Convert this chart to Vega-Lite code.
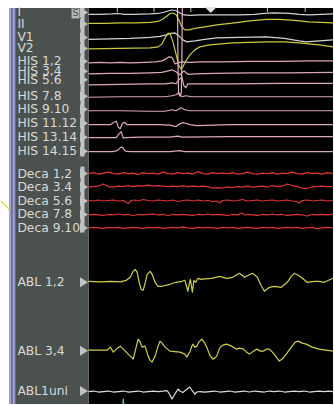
{
  "$schema": "https://vega.github.io/schema/vega-lite/v6.json",
  "width": 334,
  "height": 405,
  "padding": 0,
  "autosize": {"type": "fit", "contains": "padding"},
  "background": "#ffffff",
  "config": {"view": {"stroke": null}},
  "datasets": {
    "panels": [
      {"p": "trace area", "x": 88, "x2": 334, "y": 8, "y2": 405},
      {"p": "label panel", "x": 15, "x2": 88, "y": 8, "y2": 405},
      {"p": "edge 1", "x": 8, "x2": 10, "y": 8, "y2": 405},
      {"p": "edge 2", "x": 10, "x2": 12, "y": 8, "y2": 405},
      {"p": "edge 3", "x": 12, "x2": 13.5, "y": 8, "y2": 405},
      {"p": "edge 4", "x": 13.5, "x2": 15, "y": 8, "y2": 405},
      {"p": "marker strip", "x": 80, "x2": 84, "y": 8, "y2": 157},
      {"p": "marker strip", "x": 80, "x2": 84, "y": 167, "y2": 233},
      {"p": "speed box", "x": 71, "x2": 79, "y": 8.5, "y2": 18.5}
    ],
    "channels": [
      {"c": "I", "y": 12.5},
      {"c": "II", "y": 24},
      {"c": "V1", "y": 37.5},
      {"c": "V2", "y": 48.5},
      {"c": "HIS 1,2", "y": 61.5},
      {"c": "HIS 3,4", "y": 71.5},
      {"c": "HIS 5.6", "y": 80},
      {"c": "HIS 7.8", "y": 96.5},
      {"c": "HIS 9.10", "y": 109.5},
      {"c": "HIS 11.12", "y": 123.5},
      {"c": "HIS 13.14", "y": 137.5},
      {"c": "HIS 14.15", "y": 151.5},
      {"c": "Deca 1,2", "y": 174},
      {"c": "Deca 3.4", "y": 187.5},
      {"c": "Deca 5.6", "y": 201.5},
      {"c": "Deca 7.8", "y": 215},
      {"c": "Deca 9.10", "y": 228.5},
      {"c": "ABL 1,2", "y": 283},
      {"c": "ABL 3,4", "y": 351.5},
      {"c": "ABL1uni", "y": 392}
    ],
    "ticks": [
      {"t": 117, "y": 8, "y2": 12},
      {"t": 154, "y": 8, "y2": 12},
      {"t": 191, "y": 8, "y2": 12},
      {"t": 268, "y": 8, "y2": 12},
      {"t": 306, "y": 8, "y2": 12}
    ],
    "cursor": [{"t": 211, "y": 10}],
    "speed": [{"t": 75, "y": 13.5, "s": "S"}],
    "traces": [
      {"c": "I", "t": 88, "v": 14.5}, {"c": "I", "t": 100, "v": 14.5}, {"c": "I", "t": 112, "v": 14}, {"c": "I", "t": 118, "v": 13.5}, {"c": "I", "t": 124, "v": 14.5}, {"c": "I", "t": 135, "v": 14.5}, {"c": "I", "t": 150, "v": 14}, {"c": "I", "t": 158, "v": 13.5}, {"c": "I", "t": 163, "v": 12.5}, {"c": "I", "t": 168, "v": 11}, {"c": "I", "t": 172, "v": 10}, {"c": "I", "t": 176, "v": 10.5}, {"c": "I", "t": 180, "v": 13}, {"c": "I", "t": 184, "v": 15}, {"c": "I", "t": 190, "v": 15.5}, {"c": "I", "t": 200, "v": 15}, {"c": "I", "t": 220, "v": 15}, {"c": "I", "t": 240, "v": 15}, {"c": "I", "t": 255, "v": 14.5}, {"c": "I", "t": 265, "v": 13.5}, {"c": "I", "t": 275, "v": 13}, {"c": "I", "t": 290, "v": 13.5}, {"c": "I", "t": 300, "v": 14.5}, {"c": "I", "t": 310, "v": 15}, {"c": "I", "t": 322, "v": 14.5}, {"c": "I", "t": 334, "v": 14},

      {"c": "II", "t": 88, "v": 23.5}, {"c": "II", "t": 105, "v": 23.5}, {"c": "II", "t": 120, "v": 23}, {"c": "II", "t": 135, "v": 23}, {"c": "II", "t": 150, "v": 22.5}, {"c": "II", "t": 158, "v": 21.5}, {"c": "II", "t": 163, "v": 19}, {"c": "II", "t": 167, "v": 16}, {"c": "II", "t": 170, "v": 13.5}, {"c": "II", "t": 173, "v": 13}, {"c": "II", "t": 176, "v": 14.5}, {"c": "II", "t": 179, "v": 20}, {"c": "II", "t": 182, "v": 27}, {"c": "II", "t": 185, "v": 30}, {"c": "II", "t": 189, "v": 30}, {"c": "II", "t": 195, "v": 28.5}, {"c": "II", "t": 205, "v": 27}, {"c": "II", "t": 217, "v": 25}, {"c": "II", "t": 235, "v": 23}, {"c": "II", "t": 250, "v": 21}, {"c": "II", "t": 267, "v": 19.5}, {"c": "II", "t": 280, "v": 19.5}, {"c": "II", "t": 295, "v": 20.5}, {"c": "II", "t": 310, "v": 22}, {"c": "II", "t": 334, "v": 23},

      {"c": "V1", "t": 88, "v": 39.5}, {"c": "V1", "t": 110, "v": 39}, {"c": "V1", "t": 130, "v": 38.5}, {"c": "V1", "t": 150, "v": 37.5}, {"c": "V1", "t": 160, "v": 36.5}, {"c": "V1", "t": 166, "v": 35}, {"c": "V1", "t": 171, "v": 33.5}, {"c": "V1", "t": 175, "v": 33}, {"c": "V1", "t": 179, "v": 36}, {"c": "V1", "t": 183, "v": 40}, {"c": "V1", "t": 187, "v": 42}, {"c": "V1", "t": 195, "v": 41}, {"c": "V1", "t": 205, "v": 39.5}, {"c": "V1", "t": 217, "v": 38}, {"c": "V1", "t": 240, "v": 37.5}, {"c": "V1", "t": 267, "v": 37}, {"c": "V1", "t": 285, "v": 38.5}, {"c": "V1", "t": 300, "v": 41}, {"c": "V1", "t": 307, "v": 42}, {"c": "V1", "t": 320, "v": 41}, {"c": "V1", "t": 334, "v": 40},

      {"c": "V2", "t": 88, "v": 49}, {"c": "V2", "t": 120, "v": 48.5}, {"c": "V2", "t": 150, "v": 48}, {"c": "V2", "t": 158, "v": 47}, {"c": "V2", "t": 162, "v": 44}, {"c": "V2", "t": 165, "v": 38}, {"c": "V2", "t": 168, "v": 33.5}, {"c": "V2", "t": 170, "v": 33.5}, {"c": "V2", "t": 173, "v": 42}, {"c": "V2", "t": 176, "v": 54}, {"c": "V2", "t": 179, "v": 66}, {"c": "V2", "t": 181, "v": 69}, {"c": "V2", "t": 183, "v": 67}, {"c": "V2", "t": 186, "v": 61}, {"c": "V2", "t": 190, "v": 55}, {"c": "V2", "t": 195, "v": 50}, {"c": "V2", "t": 200, "v": 47}, {"c": "V2", "t": 210, "v": 45}, {"c": "V2", "t": 233, "v": 43}, {"c": "V2", "t": 267, "v": 42}, {"c": "V2", "t": 285, "v": 42}, {"c": "V2", "t": 300, "v": 43}, {"c": "V2", "t": 320, "v": 45}, {"c": "V2", "t": 334, "v": 47},

      {"c": "HIS spike", "t": 177.6, "v": 8}, {"c": "HIS spike", "t": 178, "v": 60}, {"c": "HIS spike", "t": 178.6, "v": 93}, {"c": "HIS spike", "t": 180, "v": 96.5}, {"c": "HIS spike", "t": 181.4, "v": 93}, {"c": "HIS spike", "t": 182, "v": 60}, {"c": "HIS spike", "t": 182.4, "v": 8},

      {"c": "HIS 1,2", "t": 88, "v": 63}, {"c": "HIS 1,2", "t": 100, "v": 62.5}, {"c": "HIS 1,2", "t": 110, "v": 63}, {"c": "HIS 1,2", "t": 120, "v": 62.5}, {"c": "HIS 1,2", "t": 130, "v": 63}, {"c": "HIS 1,2", "t": 145, "v": 62.5}, {"c": "HIS 1,2", "t": 155, "v": 62}, {"c": "HIS 1,2", "t": 162, "v": 61}, {"c": "HIS 1,2", "t": 166, "v": 59}, {"c": "HIS 1,2", "t": 169, "v": 57}, {"c": "HIS 1,2", "t": 172, "v": 57.5}, {"c": "HIS 1,2", "t": 175, "v": 64}, {"c": "HIS 1,2", "t": 178, "v": 63}, {"c": "HIS 1,2", "t": 182, "v": 62}, {"c": "HIS 1,2", "t": 190, "v": 62.5}, {"c": "HIS 1,2", "t": 200, "v": 62}, {"c": "HIS 1,2", "t": 220, "v": 62}, {"c": "HIS 1,2", "t": 250, "v": 61.5}, {"c": "HIS 1,2", "t": 280, "v": 61.5}, {"c": "HIS 1,2", "t": 310, "v": 61}, {"c": "HIS 1,2", "t": 334, "v": 61},

      {"c": "HIS 3,4", "t": 88, "v": 74}, {"c": "HIS 3,4", "t": 110, "v": 73.5}, {"c": "HIS 3,4", "t": 130, "v": 73.5}, {"c": "HIS 3,4", "t": 150, "v": 73}, {"c": "HIS 3,4", "t": 162, "v": 72.5}, {"c": "HIS 3,4", "t": 168, "v": 71}, {"c": "HIS 3,4", "t": 172, "v": 70}, {"c": "HIS 3,4", "t": 176, "v": 72}, {"c": "HIS 3,4", "t": 180, "v": 75}, {"c": "HIS 3,4", "t": 184, "v": 71}, {"c": "HIS 3,4", "t": 188, "v": 74.5}, {"c": "HIS 3,4", "t": 195, "v": 74}, {"c": "HIS 3,4", "t": 215, "v": 73.5}, {"c": "HIS 3,4", "t": 250, "v": 73}, {"c": "HIS 3,4", "t": 290, "v": 73}, {"c": "HIS 3,4", "t": 334, "v": 72.5},

      {"c": "HIS 5.6", "t": 88, "v": 85}, {"c": "HIS 5.6", "t": 120, "v": 84.5}, {"c": "HIS 5.6", "t": 150, "v": 84}, {"c": "HIS 5.6", "t": 165, "v": 84}, {"c": "HIS 5.6", "t": 172, "v": 83}, {"c": "HIS 5.6", "t": 176, "v": 84}, {"c": "HIS 5.6", "t": 179, "v": 80}, {"c": "HIS 5.6", "t": 182, "v": 77}, {"c": "HIS 5.6", "t": 184, "v": 86}, {"c": "HIS 5.6", "t": 186, "v": 88}, {"c": "HIS 5.6", "t": 188, "v": 84}, {"c": "HIS 5.6", "t": 195, "v": 84}, {"c": "HIS 5.6", "t": 230, "v": 84}, {"c": "HIS 5.6", "t": 280, "v": 83.5}, {"c": "HIS 5.6", "t": 334, "v": 83.5},

      {"c": "HIS 7.8", "t": 88, "v": 97.5}, {"c": "HIS 7.8", "t": 120, "v": 97}, {"c": "HIS 7.8", "t": 150, "v": 97}, {"c": "HIS 7.8", "t": 165, "v": 97}, {"c": "HIS 7.8", "t": 172, "v": 96}, {"c": "HIS 7.8", "t": 176, "v": 95}, {"c": "HIS 7.8", "t": 179, "v": 93}, {"c": "HIS 7.8", "t": 182, "v": 97}, {"c": "HIS 7.8", "t": 186, "v": 96}, {"c": "HIS 7.8", "t": 192, "v": 97}, {"c": "HIS 7.8", "t": 230, "v": 97}, {"c": "HIS 7.8", "t": 280, "v": 97}, {"c": "HIS 7.8", "t": 334, "v": 97},

      {"c": "HIS 9.10", "t": 88, "v": 111}, {"c": "HIS 9.10", "t": 120, "v": 111}, {"c": "HIS 9.10", "t": 150, "v": 111.5}, {"c": "HIS 9.10", "t": 165, "v": 111.5}, {"c": "HIS 9.10", "t": 172, "v": 110}, {"c": "HIS 9.10", "t": 176, "v": 111}, {"c": "HIS 9.10", "t": 181, "v": 108}, {"c": "HIS 9.10", "t": 185, "v": 110}, {"c": "HIS 9.10", "t": 190, "v": 111}, {"c": "HIS 9.10", "t": 230, "v": 111}, {"c": "HIS 9.10", "t": 280, "v": 111}, {"c": "HIS 9.10", "t": 334, "v": 111},

      {"c": "HIS 11.12", "t": 88, "v": 125}, {"c": "HIS 11.12", "t": 110, "v": 125}, {"c": "HIS 11.12", "t": 113, "v": 123}, {"c": "HIS 11.12", "t": 116, "v": 121.5}, {"c": "HIS 11.12", "t": 118, "v": 127.5}, {"c": "HIS 11.12", "t": 120, "v": 129}, {"c": "HIS 11.12", "t": 122, "v": 124}, {"c": "HIS 11.12", "t": 124, "v": 122.5}, {"c": "HIS 11.12", "t": 127, "v": 125}, {"c": "HIS 11.12", "t": 140, "v": 125}, {"c": "HIS 11.12", "t": 160, "v": 125}, {"c": "HIS 11.12", "t": 170, "v": 125.5}, {"c": "HIS 11.12", "t": 176, "v": 127}, {"c": "HIS 11.12", "t": 180, "v": 124}, {"c": "HIS 11.12", "t": 184, "v": 123}, {"c": "HIS 11.12", "t": 190, "v": 125}, {"c": "HIS 11.12", "t": 197, "v": 126}, {"c": "HIS 11.12", "t": 230, "v": 125}, {"c": "HIS 11.12", "t": 280, "v": 125}, {"c": "HIS 11.12", "t": 334, "v": 125},

      {"c": "HIS 13.14", "t": 88, "v": 138}, {"c": "HIS 13.14", "t": 116, "v": 138}, {"c": "HIS 13.14", "t": 119, "v": 134}, {"c": "HIS 13.14", "t": 121, "v": 132}, {"c": "HIS 13.14", "t": 123, "v": 138.5}, {"c": "HIS 13.14", "t": 125, "v": 138}, {"c": "HIS 13.14", "t": 140, "v": 137.5}, {"c": "HIS 13.14", "t": 170, "v": 137.5}, {"c": "HIS 13.14", "t": 178, "v": 136.5}, {"c": "HIS 13.14", "t": 182, "v": 137.5}, {"c": "HIS 13.14", "t": 230, "v": 137}, {"c": "HIS 13.14", "t": 280, "v": 137}, {"c": "HIS 13.14", "t": 334, "v": 137},

      {"c": "HIS 14.15", "t": 88, "v": 152}, {"c": "HIS 14.15", "t": 112, "v": 152}, {"c": "HIS 14.15", "t": 117, "v": 151}, {"c": "HIS 14.15", "t": 120, "v": 148}, {"c": "HIS 14.15", "t": 122, "v": 147.5}, {"c": "HIS 14.15", "t": 125, "v": 151.5}, {"c": "HIS 14.15", "t": 130, "v": 152}, {"c": "HIS 14.15", "t": 170, "v": 152}, {"c": "HIS 14.15", "t": 180, "v": 151}, {"c": "HIS 14.15", "t": 184, "v": 152}, {"c": "HIS 14.15", "t": 230, "v": 152}, {"c": "HIS 14.15", "t": 280, "v": 152}, {"c": "HIS 14.15", "t": 334, "v": 152},

      {"c": "Deca 1,2", "t": 88, "v": 174}, {"c": "Deca 1,2", "t": 93, "v": 173}, {"c": "Deca 1,2", "t": 98, "v": 174.5}, {"c": "Deca 1,2", "t": 103, "v": 173.5}, {"c": "Deca 1,2", "t": 108, "v": 172.5}, {"c": "Deca 1,2", "t": 113, "v": 174}, {"c": "Deca 1,2", "t": 118, "v": 174.5}, {"c": "Deca 1,2", "t": 123, "v": 173}, {"c": "Deca 1,2", "t": 128, "v": 174}, {"c": "Deca 1,2", "t": 133, "v": 173.5}, {"c": "Deca 1,2", "t": 138, "v": 175}, {"c": "Deca 1,2", "t": 143, "v": 173}, {"c": "Deca 1,2", "t": 148, "v": 174}, {"c": "Deca 1,2", "t": 153, "v": 173.5}, {"c": "Deca 1,2", "t": 158, "v": 174.5}, {"c": "Deca 1,2", "t": 163, "v": 172.5}, {"c": "Deca 1,2", "t": 168, "v": 174}, {"c": "Deca 1,2", "t": 173, "v": 174.5}, {"c": "Deca 1,2", "t": 178, "v": 173}, {"c": "Deca 1,2", "t": 183, "v": 174}, {"c": "Deca 1,2", "t": 188, "v": 173.5}, {"c": "Deca 1,2", "t": 193, "v": 174.5}, {"c": "Deca 1,2", "t": 198, "v": 172}, {"c": "Deca 1,2", "t": 203, "v": 174}, {"c": "Deca 1,2", "t": 208, "v": 174.5}, {"c": "Deca 1,2", "t": 213, "v": 173}, {"c": "Deca 1,2", "t": 218, "v": 174}, {"c": "Deca 1,2", "t": 223, "v": 173.5}, {"c": "Deca 1,2", "t": 228, "v": 174}, {"c": "Deca 1,2", "t": 233, "v": 173}, {"c": "Deca 1,2", "t": 238, "v": 174.5}, {"c": "Deca 1,2", "t": 243, "v": 174}, {"c": "Deca 1,2", "t": 248, "v": 172.5}, {"c": "Deca 1,2", "t": 253, "v": 174}, {"c": "Deca 1,2", "t": 258, "v": 174.5}, {"c": "Deca 1,2", "t": 263, "v": 173.5}, {"c": "Deca 1,2", "t": 268, "v": 174}, {"c": "Deca 1,2", "t": 273, "v": 173}, {"c": "Deca 1,2", "t": 278, "v": 174.5}, {"c": "Deca 1,2", "t": 283, "v": 173.5}, {"c": "Deca 1,2", "t": 288, "v": 174}, {"c": "Deca 1,2", "t": 293, "v": 172.5}, {"c": "Deca 1,2", "t": 298, "v": 174}, {"c": "Deca 1,2", "t": 303, "v": 174.5}, {"c": "Deca 1,2", "t": 308, "v": 173}, {"c": "Deca 1,2", "t": 313, "v": 174}, {"c": "Deca 1,2", "t": 318, "v": 173.5}, {"c": "Deca 1,2", "t": 323, "v": 174.5}, {"c": "Deca 1,2", "t": 328, "v": 173}, {"c": "Deca 1,2", "t": 334, "v": 174},

      {"c": "Deca 3.4", "t": 88, "v": 187.5}, {"c": "Deca 3.4", "t": 93, "v": 187}, {"c": "Deca 3.4", "t": 98, "v": 186.5}, {"c": "Deca 3.4", "t": 103, "v": 184.5}, {"c": "Deca 3.4", "t": 108, "v": 187}, {"c": "Deca 3.4", "t": 113, "v": 187.5}, {"c": "Deca 3.4", "t": 118, "v": 186.5}, {"c": "Deca 3.4", "t": 123, "v": 187}, {"c": "Deca 3.4", "t": 128, "v": 186}, {"c": "Deca 3.4", "t": 133, "v": 187}, {"c": "Deca 3.4", "t": 138, "v": 186}, {"c": "Deca 3.4", "t": 143, "v": 186.5}, {"c": "Deca 3.4", "t": 148, "v": 185.5}, {"c": "Deca 3.4", "t": 153, "v": 186.5}, {"c": "Deca 3.4", "t": 158, "v": 186}, {"c": "Deca 3.4", "t": 163, "v": 186.5}, {"c": "Deca 3.4", "t": 168, "v": 187}, {"c": "Deca 3.4", "t": 173, "v": 186.5}, {"c": "Deca 3.4", "t": 178, "v": 187}, {"c": "Deca 3.4", "t": 183, "v": 186}, {"c": "Deca 3.4", "t": 188, "v": 187}, {"c": "Deca 3.4", "t": 193, "v": 186.5}, {"c": "Deca 3.4", "t": 198, "v": 187}, {"c": "Deca 3.4", "t": 203, "v": 186.5}, {"c": "Deca 3.4", "t": 208, "v": 187}, {"c": "Deca 3.4", "t": 213, "v": 188.5}, {"c": "Deca 3.4", "t": 218, "v": 188}, {"c": "Deca 3.4", "t": 223, "v": 188.5}, {"c": "Deca 3.4", "t": 228, "v": 187.5}, {"c": "Deca 3.4", "t": 233, "v": 188}, {"c": "Deca 3.4", "t": 238, "v": 187}, {"c": "Deca 3.4", "t": 243, "v": 187.5}, {"c": "Deca 3.4", "t": 248, "v": 186.5}, {"c": "Deca 3.4", "t": 253, "v": 187.5}, {"c": "Deca 3.4", "t": 258, "v": 187}, {"c": "Deca 3.4", "t": 263, "v": 186.5}, {"c": "Deca 3.4", "t": 268, "v": 187.5}, {"c": "Deca 3.4", "t": 273, "v": 186}, {"c": "Deca 3.4", "t": 278, "v": 187}, {"c": "Deca 3.4", "t": 283, "v": 186.5}, {"c": "Deca 3.4", "t": 288, "v": 184.5}, {"c": "Deca 3.4", "t": 293, "v": 186}, {"c": "Deca 3.4", "t": 298, "v": 187}, {"c": "Deca 3.4", "t": 303, "v": 188.5}, {"c": "Deca 3.4", "t": 308, "v": 189}, {"c": "Deca 3.4", "t": 313, "v": 187.5}, {"c": "Deca 3.4", "t": 318, "v": 187}, {"c": "Deca 3.4", "t": 323, "v": 186.5}, {"c": "Deca 3.4", "t": 328, "v": 187}, {"c": "Deca 3.4", "t": 334, "v": 187},

      {"c": "Deca 5.6", "t": 88, "v": 201}, {"c": "Deca 5.6", "t": 93, "v": 201.5}, {"c": "Deca 5.6", "t": 98, "v": 200.5}, {"c": "Deca 5.6", "t": 103, "v": 201.5}, {"c": "Deca 5.6", "t": 108, "v": 201}, {"c": "Deca 5.6", "t": 113, "v": 200.5}, {"c": "Deca 5.6", "t": 118, "v": 201.5}, {"c": "Deca 5.6", "t": 123, "v": 201}, {"c": "Deca 5.6", "t": 128, "v": 204}, {"c": "Deca 5.6", "t": 131, "v": 201}, {"c": "Deca 5.6", "t": 134, "v": 200.5}, {"c": "Deca 5.6", "t": 138, "v": 201.5}, {"c": "Deca 5.6", "t": 143, "v": 200}, {"c": "Deca 5.6", "t": 148, "v": 201}, {"c": "Deca 5.6", "t": 153, "v": 201.5}, {"c": "Deca 5.6", "t": 158, "v": 200.5}, {"c": "Deca 5.6", "t": 163, "v": 201}, {"c": "Deca 5.6", "t": 168, "v": 201.5}, {"c": "Deca 5.6", "t": 173, "v": 200.5}, {"c": "Deca 5.6", "t": 178, "v": 202}, {"c": "Deca 5.6", "t": 183, "v": 201}, {"c": "Deca 5.6", "t": 188, "v": 200.5}, {"c": "Deca 5.6", "t": 193, "v": 201.5}, {"c": "Deca 5.6", "t": 198, "v": 200.5}, {"c": "Deca 5.6", "t": 203, "v": 201.5}, {"c": "Deca 5.6", "t": 208, "v": 201}, {"c": "Deca 5.6", "t": 213, "v": 202}, {"c": "Deca 5.6", "t": 217, "v": 201.5}, {"c": "Deca 5.6", "t": 220, "v": 203.5}, {"c": "Deca 5.6", "t": 223, "v": 201}, {"c": "Deca 5.6", "t": 228, "v": 200.5}, {"c": "Deca 5.6", "t": 233, "v": 201.5}, {"c": "Deca 5.6", "t": 238, "v": 201}, {"c": "Deca 5.6", "t": 243, "v": 200}, {"c": "Deca 5.6", "t": 248, "v": 201.5}, {"c": "Deca 5.6", "t": 253, "v": 201}, {"c": "Deca 5.6", "t": 258, "v": 200.5}, {"c": "Deca 5.6", "t": 263, "v": 201.5}, {"c": "Deca 5.6", "t": 268, "v": 201}, {"c": "Deca 5.6", "t": 273, "v": 200.5}, {"c": "Deca 5.6", "t": 278, "v": 201.5}, {"c": "Deca 5.6", "t": 283, "v": 201}, {"c": "Deca 5.6", "t": 288, "v": 200.5}, {"c": "Deca 5.6", "t": 293, "v": 201.5}, {"c": "Deca 5.6", "t": 297, "v": 202}, {"c": "Deca 5.6", "t": 300, "v": 203.5}, {"c": "Deca 5.6", "t": 303, "v": 201}, {"c": "Deca 5.6", "t": 308, "v": 200.5}, {"c": "Deca 5.6", "t": 313, "v": 201.5}, {"c": "Deca 5.6", "t": 318, "v": 201}, {"c": "Deca 5.6", "t": 323, "v": 200.5}, {"c": "Deca 5.6", "t": 328, "v": 201.5}, {"c": "Deca 5.6", "t": 334, "v": 201},

      {"c": "Deca 7.8", "t": 88, "v": 215.5}, {"c": "Deca 7.8", "t": 93, "v": 215}, {"c": "Deca 7.8", "t": 98, "v": 215.5}, {"c": "Deca 7.8", "t": 103, "v": 216}, {"c": "Deca 7.8", "t": 108, "v": 215}, {"c": "Deca 7.8", "t": 113, "v": 215.5}, {"c": "Deca 7.8", "t": 118, "v": 214.5}, {"c": "Deca 7.8", "t": 123, "v": 215.5}, {"c": "Deca 7.8", "t": 128, "v": 215}, {"c": "Deca 7.8", "t": 133, "v": 216}, {"c": "Deca 7.8", "t": 138, "v": 215}, {"c": "Deca 7.8", "t": 143, "v": 215.5}, {"c": "Deca 7.8", "t": 148, "v": 215}, {"c": "Deca 7.8", "t": 153, "v": 214.5}, {"c": "Deca 7.8", "t": 158, "v": 215.5}, {"c": "Deca 7.8", "t": 163, "v": 215}, {"c": "Deca 7.8", "t": 168, "v": 216}, {"c": "Deca 7.8", "t": 173, "v": 215}, {"c": "Deca 7.8", "t": 178, "v": 215.5}, {"c": "Deca 7.8", "t": 183, "v": 215}, {"c": "Deca 7.8", "t": 188, "v": 215.5}, {"c": "Deca 7.8", "t": 193, "v": 216}, {"c": "Deca 7.8", "t": 198, "v": 215}, {"c": "Deca 7.8", "t": 203, "v": 215.5}, {"c": "Deca 7.8", "t": 208, "v": 214.5}, {"c": "Deca 7.8", "t": 213, "v": 215.5}, {"c": "Deca 7.8", "t": 218, "v": 215}, {"c": "Deca 7.8", "t": 223, "v": 215.5}, {"c": "Deca 7.8", "t": 228, "v": 216}, {"c": "Deca 7.8", "t": 233, "v": 215}, {"c": "Deca 7.8", "t": 238, "v": 215.5}, {"c": "Deca 7.8", "t": 242, "v": 213.5}, {"c": "Deca 7.8", "t": 245, "v": 215.5}, {"c": "Deca 7.8", "t": 248, "v": 215}, {"c": "Deca 7.8", "t": 253, "v": 215.5}, {"c": "Deca 7.8", "t": 258, "v": 216}, {"c": "Deca 7.8", "t": 263, "v": 215}, {"c": "Deca 7.8", "t": 268, "v": 215.5}, {"c": "Deca 7.8", "t": 273, "v": 214.5}, {"c": "Deca 7.8", "t": 278, "v": 215.5}, {"c": "Deca 7.8", "t": 283, "v": 215}, {"c": "Deca 7.8", "t": 288, "v": 216}, {"c": "Deca 7.8", "t": 293, "v": 215.5}, {"c": "Deca 7.8", "t": 298, "v": 215}, {"c": "Deca 7.8", "t": 303, "v": 215.5}, {"c": "Deca 7.8", "t": 308, "v": 216.5}, {"c": "Deca 7.8", "t": 313, "v": 215}, {"c": "Deca 7.8", "t": 318, "v": 215.5}, {"c": "Deca 7.8", "t": 323, "v": 215}, {"c": "Deca 7.8", "t": 328, "v": 215.5}, {"c": "Deca 7.8", "t": 334, "v": 215},

      {"c": "Deca 9.10", "t": 88, "v": 228.5}, {"c": "Deca 9.10", "t": 93, "v": 228}, {"c": "Deca 9.10", "t": 98, "v": 228.5}, {"c": "Deca 9.10", "t": 103, "v": 229}, {"c": "Deca 9.10", "t": 108, "v": 228}, {"c": "Deca 9.10", "t": 113, "v": 228.5}, {"c": "Deca 9.10", "t": 118, "v": 228}, {"c": "Deca 9.10", "t": 123, "v": 229}, {"c": "Deca 9.10", "t": 128, "v": 228.5}, {"c": "Deca 9.10", "t": 133, "v": 228}, {"c": "Deca 9.10", "t": 138, "v": 228.5}, {"c": "Deca 9.10", "t": 143, "v": 229}, {"c": "Deca 9.10", "t": 148, "v": 228}, {"c": "Deca 9.10", "t": 153, "v": 228.5}, {"c": "Deca 9.10", "t": 158, "v": 228}, {"c": "Deca 9.10", "t": 163, "v": 229}, {"c": "Deca 9.10", "t": 168, "v": 228.5}, {"c": "Deca 9.10", "t": 173, "v": 228}, {"c": "Deca 9.10", "t": 178, "v": 228.5}, {"c": "Deca 9.10", "t": 183, "v": 227.5}, {"c": "Deca 9.10", "t": 188, "v": 228.5}, {"c": "Deca 9.10", "t": 193, "v": 229}, {"c": "Deca 9.10", "t": 198, "v": 228}, {"c": "Deca 9.10", "t": 203, "v": 228.5}, {"c": "Deca 9.10", "t": 208, "v": 228}, {"c": "Deca 9.10", "t": 213, "v": 228.5}, {"c": "Deca 9.10", "t": 218, "v": 229}, {"c": "Deca 9.10", "t": 223, "v": 228}, {"c": "Deca 9.10", "t": 228, "v": 228.5}, {"c": "Deca 9.10", "t": 233, "v": 228}, {"c": "Deca 9.10", "t": 238, "v": 229}, {"c": "Deca 9.10", "t": 243, "v": 228.5}, {"c": "Deca 9.10", "t": 248, "v": 228}, {"c": "Deca 9.10", "t": 253, "v": 228.5}, {"c": "Deca 9.10", "t": 258, "v": 229}, {"c": "Deca 9.10", "t": 263, "v": 228}, {"c": "Deca 9.10", "t": 268, "v": 228.5}, {"c": "Deca 9.10", "t": 273, "v": 228}, {"c": "Deca 9.10", "t": 278, "v": 229}, {"c": "Deca 9.10", "t": 283, "v": 228.5}, {"c": "Deca 9.10", "t": 288, "v": 228}, {"c": "Deca 9.10", "t": 293, "v": 228.5}, {"c": "Deca 9.10", "t": 298, "v": 228}, {"c": "Deca 9.10", "t": 303, "v": 229}, {"c": "Deca 9.10", "t": 308, "v": 228.5}, {"c": "Deca 9.10", "t": 313, "v": 228}, {"c": "Deca 9.10", "t": 318, "v": 229.5}, {"c": "Deca 9.10", "t": 323, "v": 228.5}, {"c": "Deca 9.10", "t": 328, "v": 228}, {"c": "Deca 9.10", "t": 334, "v": 228.5},

      {"c": "ABL 1,2", "t": 88, "v": 282}, {"c": "ABL 1,2", "t": 100, "v": 282.5}, {"c": "ABL 1,2", "t": 110, "v": 282}, {"c": "ABL 1,2", "t": 120, "v": 282.5}, {"c": "ABL 1,2", "t": 126, "v": 281}, {"c": "ABL 1,2", "t": 130, "v": 278}, {"c": "ABL 1,2", "t": 133, "v": 272}, {"c": "ABL 1,2", "t": 135, "v": 270}, {"c": "ABL 1,2", "t": 137, "v": 273}, {"c": "ABL 1,2", "t": 139, "v": 283}, {"c": "ABL 1,2", "t": 141, "v": 290}, {"c": "ABL 1,2", "t": 143, "v": 291}, {"c": "ABL 1,2", "t": 145, "v": 284}, {"c": "ABL 1,2", "t": 147, "v": 275}, {"c": "ABL 1,2", "t": 150, "v": 272}, {"c": "ABL 1,2", "t": 152, "v": 275}, {"c": "ABL 1,2", "t": 155, "v": 283}, {"c": "ABL 1,2", "t": 158, "v": 287}, {"c": "ABL 1,2", "t": 162, "v": 287}, {"c": "ABL 1,2", "t": 170, "v": 285}, {"c": "ABL 1,2", "t": 176, "v": 283}, {"c": "ABL 1,2", "t": 182, "v": 282}, {"c": "ABL 1,2", "t": 185, "v": 281}, {"c": "ABL 1,2", "t": 187, "v": 288}, {"c": "ABL 1,2", "t": 188, "v": 292}, {"c": "ABL 1,2", "t": 189.5, "v": 284}, {"c": "ABL 1,2", "t": 190.5, "v": 280}, {"c": "ABL 1,2", "t": 191.5, "v": 286}, {"c": "ABL 1,2", "t": 192.5, "v": 293}, {"c": "ABL 1,2", "t": 194, "v": 281}, {"c": "ABL 1,2", "t": 196, "v": 283}, {"c": "ABL 1,2", "t": 198, "v": 279}, {"c": "ABL 1,2", "t": 201, "v": 280}, {"c": "ABL 1,2", "t": 205, "v": 279.5}, {"c": "ABL 1,2", "t": 212, "v": 279}, {"c": "ABL 1,2", "t": 220, "v": 277}, {"c": "ABL 1,2", "t": 227, "v": 279}, {"c": "ABL 1,2", "t": 233, "v": 278}, {"c": "ABL 1,2", "t": 240, "v": 274}, {"c": "ABL 1,2", "t": 245, "v": 278}, {"c": "ABL 1,2", "t": 249, "v": 276}, {"c": "ABL 1,2", "t": 253, "v": 274}, {"c": "ABL 1,2", "t": 258, "v": 278}, {"c": "ABL 1,2", "t": 261, "v": 285}, {"c": "ABL 1,2", "t": 265, "v": 292}, {"c": "ABL 1,2", "t": 270, "v": 288}, {"c": "ABL 1,2", "t": 275, "v": 287}, {"c": "ABL 1,2", "t": 282, "v": 288}, {"c": "ABL 1,2", "t": 288, "v": 283}, {"c": "ABL 1,2", "t": 292, "v": 277}, {"c": "ABL 1,2", "t": 295, "v": 274}, {"c": "ABL 1,2", "t": 299, "v": 276}, {"c": "ABL 1,2", "t": 302, "v": 278}, {"c": "ABL 1,2", "t": 308, "v": 283}, {"c": "ABL 1,2", "t": 315, "v": 282}, {"c": "ABL 1,2", "t": 320, "v": 282}, {"c": "ABL 1,2", "t": 325, "v": 283}, {"c": "ABL 1,2", "t": 334, "v": 279},

      {"c": "ABL 3,4", "t": 88, "v": 351}, {"c": "ABL 3,4", "t": 100, "v": 351}, {"c": "ABL 3,4", "t": 107, "v": 351}, {"c": "ABL 3,4", "t": 110, "v": 348}, {"c": "ABL 3,4", "t": 113, "v": 353}, {"c": "ABL 3,4", "t": 117, "v": 349}, {"c": "ABL 3,4", "t": 120, "v": 347}, {"c": "ABL 3,4", "t": 125, "v": 352}, {"c": "ABL 3,4", "t": 130, "v": 357}, {"c": "ABL 3,4", "t": 133, "v": 360}, {"c": "ABL 3,4", "t": 136, "v": 348}, {"c": "ABL 3,4", "t": 138, "v": 340}, {"c": "ABL 3,4", "t": 140, "v": 343}, {"c": "ABL 3,4", "t": 142, "v": 348}, {"c": "ABL 3,4", "t": 145, "v": 347}, {"c": "ABL 3,4", "t": 148, "v": 357}, {"c": "ABL 3,4", "t": 150, "v": 361}, {"c": "ABL 3,4", "t": 152, "v": 363}, {"c": "ABL 3,4", "t": 155, "v": 357}, {"c": "ABL 3,4", "t": 158, "v": 347}, {"c": "ABL 3,4", "t": 160, "v": 342}, {"c": "ABL 3,4", "t": 162, "v": 344}, {"c": "ABL 3,4", "t": 165, "v": 348}, {"c": "ABL 3,4", "t": 170, "v": 352}, {"c": "ABL 3,4", "t": 180, "v": 353}, {"c": "ABL 3,4", "t": 185, "v": 355}, {"c": "ABL 3,4", "t": 187, "v": 358}, {"c": "ABL 3,4", "t": 189, "v": 354}, {"c": "ABL 3,4", "t": 190, "v": 353}, {"c": "ABL 3,4", "t": 192, "v": 347}, {"c": "ABL 3,4", "t": 193, "v": 345}, {"c": "ABL 3,4", "t": 195, "v": 348}, {"c": "ABL 3,4", "t": 197, "v": 347}, {"c": "ABL 3,4", "t": 199, "v": 343}, {"c": "ABL 3,4", "t": 202, "v": 340}, {"c": "ABL 3,4", "t": 205, "v": 344}, {"c": "ABL 3,4", "t": 207, "v": 348}, {"c": "ABL 3,4", "t": 210, "v": 356}, {"c": "ABL 3,4", "t": 213, "v": 360}, {"c": "ABL 3,4", "t": 215, "v": 359}, {"c": "ABL 3,4", "t": 217, "v": 357}, {"c": "ABL 3,4", "t": 220, "v": 349}, {"c": "ABL 3,4", "t": 223, "v": 346}, {"c": "ABL 3,4", "t": 227, "v": 345}, {"c": "ABL 3,4", "t": 232, "v": 347}, {"c": "ABL 3,4", "t": 237, "v": 350}, {"c": "ABL 3,4", "t": 240, "v": 349}, {"c": "ABL 3,4", "t": 244, "v": 350}, {"c": "ABL 3,4", "t": 247, "v": 353}, {"c": "ABL 3,4", "t": 250, "v": 355}, {"c": "ABL 3,4", "t": 254, "v": 352}, {"c": "ABL 3,4", "t": 257, "v": 350}, {"c": "ABL 3,4", "t": 261, "v": 352}, {"c": "ABL 3,4", "t": 264, "v": 352}, {"c": "ABL 3,4", "t": 267, "v": 350}, {"c": "ABL 3,4", "t": 270, "v": 350}, {"c": "ABL 3,4", "t": 274, "v": 354}, {"c": "ABL 3,4", "t": 280, "v": 362}, {"c": "ABL 3,4", "t": 283, "v": 360}, {"c": "ABL 3,4", "t": 287, "v": 355}, {"c": "ABL 3,4", "t": 292, "v": 348}, {"c": "ABL 3,4", "t": 296, "v": 343}, {"c": "ABL 3,4", "t": 299, "v": 342}, {"c": "ABL 3,4", "t": 303, "v": 344}, {"c": "ABL 3,4", "t": 307, "v": 345}, {"c": "ABL 3,4", "t": 313, "v": 348}, {"c": "ABL 3,4", "t": 320, "v": 350}, {"c": "ABL 3,4", "t": 327, "v": 351}, {"c": "ABL 3,4", "t": 334, "v": 352},

      {"c": "ABL1uni", "t": 88, "v": 392.5}, {"c": "ABL1uni", "t": 93, "v": 392}, {"c": "ABL1uni", "t": 98, "v": 393}, {"c": "ABL1uni", "t": 103, "v": 392.5}, {"c": "ABL1uni", "t": 108, "v": 392}, {"c": "ABL1uni", "t": 113, "v": 393}, {"c": "ABL1uni", "t": 118, "v": 392.5}, {"c": "ABL1uni", "t": 123, "v": 392}, {"c": "ABL1uni", "t": 128, "v": 393}, {"c": "ABL1uni", "t": 133, "v": 392.5}, {"c": "ABL1uni", "t": 138, "v": 392}, {"c": "ABL1uni", "t": 143, "v": 393}, {"c": "ABL1uni", "t": 148, "v": 392.5}, {"c": "ABL1uni", "t": 153, "v": 392}, {"c": "ABL1uni", "t": 158, "v": 392.5}, {"c": "ABL1uni", "t": 163, "v": 392}, {"c": "ABL1uni", "t": 167, "v": 391.5}, {"c": "ABL1uni", "t": 169, "v": 394}, {"c": "ABL1uni", "t": 172, "v": 400}, {"c": "ABL1uni", "t": 175, "v": 395}, {"c": "ABL1uni", "t": 178, "v": 390}, {"c": "ABL1uni", "t": 180, "v": 392}, {"c": "ABL1uni", "t": 183, "v": 393.5}, {"c": "ABL1uni", "t": 186, "v": 391}, {"c": "ABL1uni", "t": 190, "v": 388}, {"c": "ABL1uni", "t": 192, "v": 391}, {"c": "ABL1uni", "t": 195, "v": 395}, {"c": "ABL1uni", "t": 197, "v": 393}, {"c": "ABL1uni", "t": 200, "v": 392.5}, {"c": "ABL1uni", "t": 205, "v": 393}, {"c": "ABL1uni", "t": 210, "v": 392.5}, {"c": "ABL1uni", "t": 215, "v": 392}, {"c": "ABL1uni", "t": 220, "v": 393}, {"c": "ABL1uni", "t": 225, "v": 392.5}, {"c": "ABL1uni", "t": 230, "v": 392}, {"c": "ABL1uni", "t": 235, "v": 393}, {"c": "ABL1uni", "t": 240, "v": 392.5}, {"c": "ABL1uni", "t": 245, "v": 392}, {"c": "ABL1uni", "t": 250, "v": 393}, {"c": "ABL1uni", "t": 255, "v": 392}, {"c": "ABL1uni", "t": 260, "v": 392.5}, {"c": "ABL1uni", "t": 265, "v": 393}, {"c": "ABL1uni", "t": 270, "v": 392}, {"c": "ABL1uni", "t": 275, "v": 392.5}, {"c": "ABL1uni", "t": 280, "v": 392}, {"c": "ABL1uni", "t": 285, "v": 393}, {"c": "ABL1uni", "t": 290, "v": 392.5}, {"c": "ABL1uni", "t": 295, "v": 392}, {"c": "ABL1uni", "t": 300, "v": 392.5}, {"c": "ABL1uni", "t": 305, "v": 392}, {"c": "ABL1uni", "t": 310, "v": 393}, {"c": "ABL1uni", "t": 315, "v": 392.5}, {"c": "ABL1uni", "t": 320, "v": 392}, {"c": "ABL1uni", "t": 325, "v": 392.5}, {"c": "ABL1uni", "t": 330, "v": 392}, {"c": "ABL1uni", "t": 334, "v": 392.5},

      {"c": "stim", "t": 122.6, "v": 405}, {"c": "stim", "t": 123, "v": 400}, {"c": "stim", "t": 123.4, "v": 405},

      {"c": "pointer", "t": 0, "v": 201.5}, {"c": "pointer", "t": 8.5, "v": 210}
    ]
  },
  "layer": [
    {
      "data": {"name": "panels"},
      "mark": {"type": "rect"},
      "encoding": {
        "x": {"field": "x", "type": "quantitative", "scale": {"domain": [0, 334], "nice": false, "zero": false}, "axis": null},
        "x2": {"field": "x2"},
        "y": {"field": "y", "type": "quantitative", "scale": {"domain": [0, 405], "nice": false, "zero": false, "reverse": true}, "axis": null},
        "y2": {"field": "y2"},
        "color": {
          "field": "p", "type": "nominal", "legend": null,
          "scale": {
            "domain": ["trace area", "label panel", "edge 1", "edge 2", "edge 3", "edge 4", "marker strip", "speed box"],
            "range": ["#000000", "#4b514e", "#a0a0d2", "#6c6ca8", "#a4a4cc", "#5a5a86", "#c2c4c2", "#b6b8b6"]
          }
        }
      }
    },
    {
      "data": {"name": "ticks"},
      "mark": {"type": "rule", "color": "#c8c8c8", "strokeWidth": 1},
      "encoding": {
        "x": {"field": "t", "type": "quantitative"},
        "y": {"field": "y", "type": "quantitative"},
        "y2": {"field": "y2"}
      }
    },
    {
      "data": {"name": "channels"},
      "mark": {"type": "point", "shape": "M -0.8,-1 L 0.8,0 L -0.8,1 Z", "filled": true, "size": 100, "color": "#c2c4c2", "opacity": 1},
      "encoding": {
        "x": {"datum": 83.5, "type": "quantitative"},
        "y": {"field": "y", "type": "quantitative"}
      }
    },
    {
      "data": {"name": "channels"},
      "mark": {"type": "text", "align": "left", "baseline": "middle", "font": "DejaVu Sans", "fontSize": 12.3, "color": "#d8dad8"},
      "encoding": {
        "x": {"datum": 16.5, "type": "quantitative"},
        "y": {"field": "y", "type": "quantitative"},
        "text": {"field": "c"}
      }
    },
    {
      "data": {"name": "speed"},
      "mark": {"type": "text", "align": "center", "baseline": "middle", "font": "DejaVu Sans", "fontSize": 9.5, "color": "#4b514e"},
      "encoding": {
        "x": {"field": "t", "type": "quantitative"},
        "y": {"field": "y", "type": "quantitative"},
        "text": {"field": "s"}
      }
    },
    {
      "data": {"name": "traces"},
      "mark": {"type": "line", "strokeWidth": 1.2, "strokeJoin": "round"},
      "encoding": {
        "x": {"field": "t", "type": "quantitative"},
        "y": {"field": "v", "type": "quantitative"},
        "detail": {"field": "c"},
        "color": {
          "field": "c", "type": "nominal", "legend": null,
          "scale": {
            "domain": ["I", "II", "V1", "V2", "HIS spike", "HIS 1,2", "HIS 3,4", "HIS 5.6", "HIS 7.8", "HIS 9.10", "HIS 11.12", "HIS 13.14", "HIS 14.15", "Deca 1,2", "Deca 3.4", "Deca 5.6", "Deca 7.8", "Deca 9.10", "ABL 1,2", "ABL 3,4", "ABL1uni", "stim", "pointer"],
            "range": ["#d2d2d2", "#c9c83e", "#d2d2d2", "#c9c83e", "#e4b0c4", "#dba7ba", "#dba7ba", "#dba7ba", "#dba7ba", "#dba7ba", "#dba7ba", "#dba7ba", "#dba7ba", "#e03434", "#e03434", "#e03434", "#e03434", "#e03434", "#cfcf45", "#cfcf45", "#dcdcdc", "#66ccaa", "#e6d82a"]
          }
        }
      }
    },
    {
      "data": {"name": "cursor"},
      "mark": {"type": "point", "shape": "M -1,-0.5 L 1,-0.5 L 0,0.5 Z", "filled": true, "size": 144, "color": "#e2e2e2", "opacity": 1},
      "encoding": {
        "x": {"field": "t", "type": "quantitative"},
        "y": {"field": "y", "type": "quantitative"}
      }
    }
  ],
  "resolve": {"scale": {"color": "independent"}}
}
